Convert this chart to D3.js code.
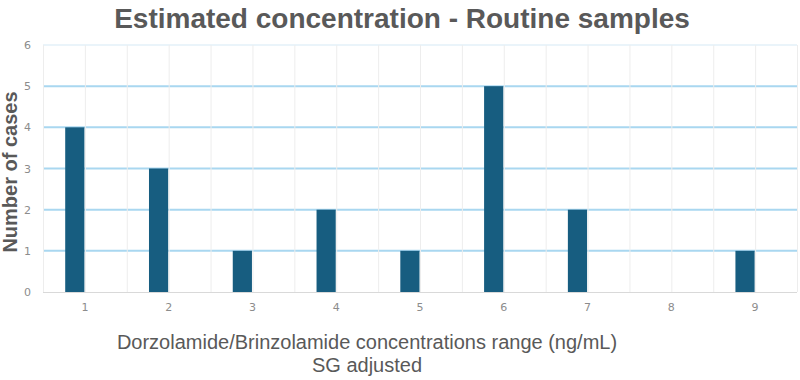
<!DOCTYPE html>
<html>
<head>
<meta charset="utf-8">
<script src="https://cdn.jsdelivr.net/npm/d3@7"></script>
<style>
  html, body { margin: 0; padding: 0; background: #fff; }
  svg { display: block; }
  .tick text { font-family: "DejaVu Sans", sans-serif; font-size: 11px; fill: #8c8c8c; }
</style>
</head>
<body>
<div id="chart"></div>
<script>
// Data
const categories = ['1', '2', '3', '4', '5', '6', '7', '8', '9'];
const cases = [4, 3, 1, 2, 1, 5, 2, 0, 1];
const yTicks = [0, 1, 2, 3, 4, 5, 6];
const series = ['cases', 'empty'];

const width = 800;
const height = 380;
const margin = {top: 45, right: 3, bottom: 88, left: 43};

const svg = d3.select('#chart')
  .append('svg')
  .attr('width', width)
  .attr('height', height);

const x = d3.scaleBand()
  .domain(categories)
  .range([margin.left, width - margin.right])
  .padding(0);

// second (empty) series keeps the bar in the left half, like the source
const xInner = d3.scaleBand()
  .domain(series)
  .range([0, x.bandwidth()])
  .paddingInner(0.05)
  .paddingOuter(1.1);

const y = d3.scaleLinear()
  .domain([0, 6])
  .range([height - margin.bottom, margin.top]);

// horizontal grid
svg.append('g')
  .selectAll('line')
  .data(yTicks.filter(d => d > 0))
  .enter()
  .append('line')
  .attr('x1', margin.left)
  .attr('x2', width - margin.right)
  .attr('y1', d => y(d))
  .attr('y2', d => y(d))
  .attr('stroke', d => d === 6 ? '#e3f0f8' : '#a9d7f0')
  .attr('stroke-width', d => d === 6 ? 1.5 : 2);

// vertical grid, at band edges and band centres
const vLines = [];
categories.forEach(c => {
  vLines.push(x(c));
  vLines.push(x(c) + x.bandwidth() / 2);
});
vLines.push(x.range()[1]);

svg.append('g')
  .selectAll('line')
  .data(vLines)
  .enter()
  .append('line')
  .attr('x1', d => d + 0.5)
  .attr('x2', d => d + 0.5)
  .attr('y1', y(6))
  .attr('y2', y(0))
  .attr('stroke', '#ededed')
  .attr('stroke-width', 1);

// baseline
svg.append('line')
  .attr('x1', margin.left)
  .attr('x2', width - margin.right)
  .attr('y1', y(0) + 0.5)
  .attr('y2', y(0) + 0.5)
  .attr('stroke', '#d9d9d9');

// bars
svg.append('g')
  .selectAll('rect')
  .data(cases)
  .enter()
  .append('rect')
  .attr('x', (d, i) => x(categories[i]) + xInner('cases'))
  .attr('width', xInner.bandwidth())
  .attr('y', d => y(d))
  .attr('height', d => y(0) - y(d))
  .attr('fill', '#175d80');

// axes
const yAxis = svg.append('g')
  .attr('transform', `translate(${margin.left},0)`)
  .call(d3.axisLeft(y).tickValues(yTicks).tickFormat(d3.format('d')).tickSize(0).tickPadding(12));
yAxis.select('.domain').remove();

const xAxis = svg.append('g')
  .attr('transform', `translate(0,${y(0)})`)
  .call(d3.axisBottom(x).tickSize(0).tickPadding(11));
xAxis.select('.domain').remove();

// titles
svg.append('text')
  .attr('x', 402)
  .attr('y', 28)
  .attr('text-anchor', 'middle')
  .style('font-family', '"Liberation Sans", Arial, sans-serif')
  .style('font-weight', 'bold')
  .style('font-size', '28px')
  .style('fill', '#595959')
  .text('Estimated concentration - Routine samples');

svg.append('text')
  .attr('transform', 'translate(17,172) rotate(-90)')
  .attr('text-anchor', 'middle')
  .style('font-family', '"Liberation Sans", Arial, sans-serif')
  .style('font-weight', 'bold')
  .style('font-size', '20px')
  .style('fill', '#595959')
  .text('Number of cases');

const xTitle = svg.append('text')
  .attr('text-anchor', 'middle')
  .style('font-family', '"Liberation Sans", Arial, sans-serif')
  .style('font-size', '20px')
  .style('fill', '#595959');
xTitle.append('tspan')
  .attr('x', 367)
  .attr('y', 349)
  .text('Dorzolamide/Brinzolamide concentrations range (ng/mL)');
xTitle.append('tspan')
  .attr('x', 367)
  .attr('y', 372)
  .text('SG adjusted');
</script>
</body>
</html>
